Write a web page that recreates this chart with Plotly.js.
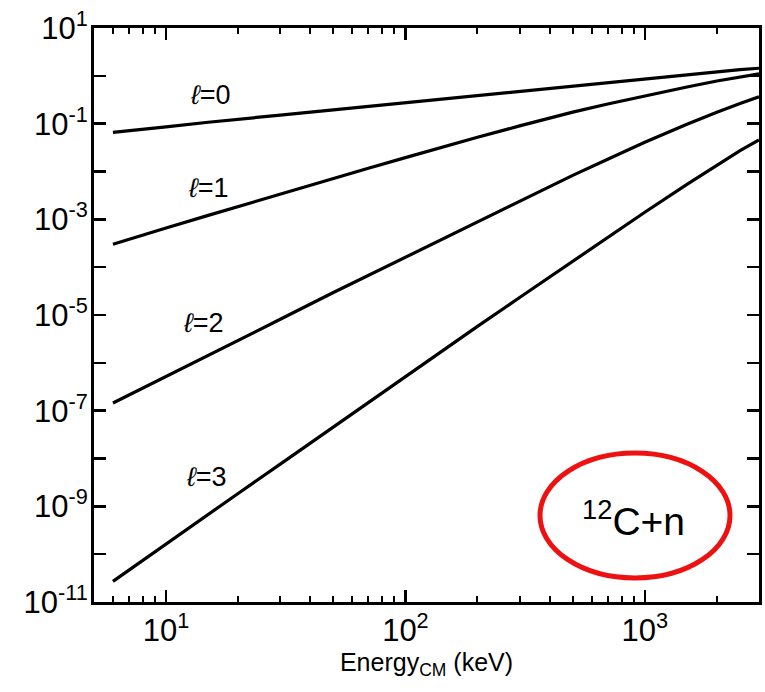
<!DOCTYPE html>
<html>
<head>
<meta charset="utf-8">
<script src="https://cdn.plot.ly/plotly-3.0.1.min.js"></script>
<style>html,body{margin:0;padding:0;background:#fff;}#chart{width:765px;height:692px;}</style>
</head>
<body>
<div id="chart"></div>
<script>
// Energy in keV (centre of mass)
var energy = [6, 8, 10, 15, 20, 30, 50, 70, 100, 150, 200, 300, 500, 700, 1000, 1500, 2000, 2500, 3000];
// Values for each orbital angular momentum
var l0 = [0.066, 0.078, 0.086, 0.107, 0.122, 0.151, 0.195, 0.231, 0.275, 0.338, 0.39, 0.478, 0.62, 0.731, 0.88, 1.07, 1.24, 1.35, 1.44];
var l1 = [3.0e-4, 4.73e-4, 6.6e-4, 1.21e-3, 1.86e-3, 3.38e-3, 7.2e-3, 0.0117, 0.0195, 0.0348, 0.052, 0.0897, 0.174, 0.258, 0.385, 0.585, 0.78, 0.94, 1.10];
var l2 = [1.45e-7, 3.0e-7, 5.2e-7, 1.44e-6, 2.95e-6, 8.13e-6, 2.95e-5, 6.7e-5, 1.62e-4, 4.41e-4, 8.9e-4, 2.4e-3, 8.3e-3, 0.018, 0.041, 0.0968, 0.174, 0.263, 0.363];
var l3 = [2.7e-11, 7.5e-11, 1.62e-10, 6.76e-10, 1.86e-9, 7.62e-9, 4.6e-8, 1.47e-7, 5.1e-7, 2.1e-6, 5.8e-6, 2.32e-5, 1.35e-4, 4.24e-4, 1.41e-3, 5.4e-3, 0.0138, 0.0274, 0.0457];
var seriesNames = ['\u2113=0', '\u2113=1', '\u2113=2', '\u2113=3'];
var labelTexts = ['<i>\u2113</i>=0', '<i>\u2113</i>=1', '<i>\u2113</i>=2', '<i>\u2113</i>=3'];

var xMajor = [10, 100, 1000];
var xMajorText = ['10<sup>1</sup>', '10<sup>2</sup>', '10<sup>3</sup>'];
var xMinor = [5, 6, 7, 8, 9, 20, 30, 40, 50, 60, 70, 80, 90, 200, 300, 400, 500, 600, 700, 800, 900, 2000, 3000];
var yTicks = [1e1, 1e0, 1e-1, 1e-2, 1e-3, 1e-4, 1e-5, 1e-6, 1e-7, 1e-8, 1e-9, 1e-10, 1e-11];
var yTickText = ['10<sup>1</sup>', '', '10<sup>-1</sup>', '', '10<sup>-3</sup>', '', '10<sup>-5</sup>', '', '10<sup>-7</sup>', '', '10<sup>-9</sup>', '', '10<sup>-11</sup>'];

// label anchor positions (energy, value) for the curve labels
var labelE = [15.4, 15.0, 14.4, 14.8];
var labelV = [0.398, 4.52e-3, 6.76e-6, 4.1e-9];

var allSeries = [l0, l1, l2, l3];
var traces = allSeries.map(function (s, i) {
  return {x: energy, y: s, type: 'scatter', mode: 'lines', name: seriesNames[i],
          line: {color: '#000', width: 3.2}, showlegend: false, hoverinfo: 'skip'};
});
// invisible helper trace so that the top (mirror) axis with minor ticks is drawn
traces.push({x: [energy[0]], y: [l0[0]], xaxis: 'x2', yaxis: 'y', type: 'scatter', mode: 'markers',
             marker: {opacity: 0, size: 1}, showlegend: false, hoverinfo: 'skip'});

var font = 'Liberation Sans, Arial, Helvetica, sans-serif';
var annotations = labelTexts.map(function (n, i) {
  return {x: Math.log10(labelE[i]), y: Math.log10(labelV[i]), xref: 'x', yref: 'y', text: n,
          xanchor: 'center', yanchor: 'middle',
          showarrow: false, font: {family: font, size: 27, color: '#000'}};
});
annotations.push({xref: 'paper', yref: 'paper', x: 0.812, y: 0.146, xanchor: 'center', yanchor: 'middle',
  text: '<sup>12</sup>C+n', showarrow: false, font: {family: font, size: 39, color: '#000'}});

var xRange = [Math.log10(5), Math.log10(3000)];
var layout = {
  width: 765, height: 692,
  margin: {l: 94, r: 6, t: 28, b: 90},
  paper_bgcolor: '#fff', plot_bgcolor: '#fff',
  showlegend: false,
  xaxis: {
    type: 'log', range: xRange,
    tickmode: 'array', tickvals: xMajor, ticktext: xMajorText,
    ticks: 'inside', ticklen: 12, tickwidth: 2.5, tickcolor: '#000',
    minor: {tickmode: 'array', tickvals: xMinor, ticks: 'inside', ticklen: 6, tickwidth: 2, tickcolor: '#000'},
    showline: true, linewidth: 3, linecolor: '#000', mirror: true,
    showgrid: false, zeroline: false,
    tickfont: {family: font, size: 31, color: '#000'},
    ticklabelstandoff: -1,
    title: {text: 'Energy<sub>CM</sub> (keV)', font: {family: font, size: 25, color: '#000'}, standoff: 6}
  },
  xaxis2: {
    type: 'log', range: xRange, overlaying: 'x', side: 'top', anchor: 'y',
    tickmode: 'array', tickvals: xMajor, showticklabels: false,
    ticks: 'inside', ticklen: 12, tickwidth: 2.5, tickcolor: '#000',
    minor: {tickmode: 'array', tickvals: xMinor, ticks: 'inside', ticklen: 6, tickwidth: 2, tickcolor: '#000'},
    showline: true, linewidth: 3, linecolor: '#000',
    showgrid: false, zeroline: false
  },
  yaxis: {
    type: 'log', range: [-11, 1],
    tickmode: 'array', tickvals: yTicks, ticktext: yTickText,
    ticks: 'inside', ticklen: 12, tickwidth: 2.5, tickcolor: '#000',
    showline: true, linewidth: 3, linecolor: '#000', mirror: 'ticks',
    showgrid: false, zeroline: false,
    tickfont: {family: font, size: 31, color: '#000'},
    ticklabelstandoff: -3
  },
  shapes: [{type: 'circle', xref: 'paper', yref: 'paper', x0: 0.6707, x1: 0.9564, y0: 0.0418, y1: 0.2596,
            line: {color: '#ee1111', width: 5}}],
  annotations: annotations
};

Plotly.newPlot('chart', traces, layout, {displayModeBar: false, staticPlot: true});
</script>
</body>
</html>
